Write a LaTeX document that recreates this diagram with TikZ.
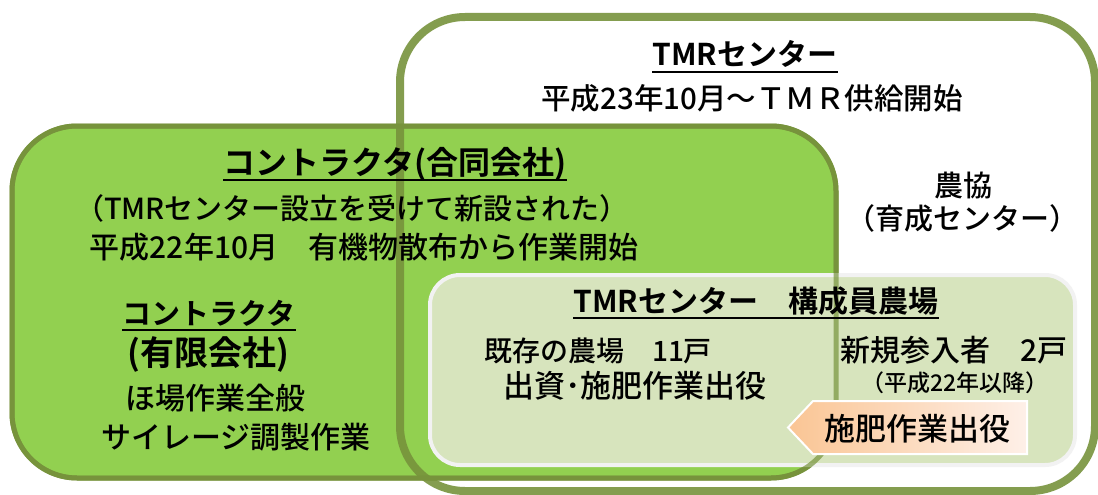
\documentclass[tikz,border=0pt]{standalone}
\usepackage{fontspec}
\setmainfont{Noto Sans CJK JP}[BoldFont={Noto Sans CJK JP Bold}]
\newfontfamily\medfont{Noto Sans CJK JP Medium}
\definecolor{bordergreen}{HTML}{77933C}
\definecolor{fillgreen}{HTML}{92D050}
\definecolor{lightfill}{HTML}{D7E4BD}
\definecolor{lightborder}{HTML}{F2F2F2}
\definecolor{peachL}{HTML}{FAC594}
\definecolor{peachR}{HTML}{FEF0E8}
\begin{document}
\begin{tikzpicture}[x=1pt,y=-1pt,
  txt/.style={anchor=base, inner sep=0pt, font=\medfont\fontsize{30}{32}\selectfont},
  smalltxt/.style={anchor=base, inner sep=0pt, font=\medfont\fontsize{23}{25}\selectfont},
  hd/.style={anchor=base, inner sep=0pt, font=\fontsize{30}{32}\selectfont\bfseries},
  uline/.style={line width=1.8pt, black},
  bigbox/.style={rounded corners=65pt}]
\useasboundingbox (0,0) rectangle (1098,495);
\fill[white] (0,0) rectangle (1098,495);
% contractor (green) box
\fill[fillgreen, bigbox] (12,126) rectangle (836,478);
\draw[bordergreen, line width=5pt, bigbox] (12,126) rectangle (836,478);
% member farms box
\draw[fill=lightfill, draw=lightborder, line width=4pt, rounded corners=30pt] (430,275) rectangle (1075,465);
% TMR centre box border
\draw[bordergreen, line width=8pt, bigbox, opacity=0.9] (400,17) rectangle (1095,491);
% green border seen through
\draw[bordergreen, line width=5pt, bigbox, opacity=0.7] (12,126) rectangle (836,478);
% arrow tag
\shade[left color=peachL, right color=peachR] (788,427.5) -- (813,401) -- (1027,401) -- (1027,454) -- (813,454) -- cycle;
\draw[white, line width=2pt, line join=miter] (788,427.5) -- (813,401) -- (1027,401) -- (1027,454) -- (813,454) -- cycle;

% texts
\node[hd] (tmrTitle) at (745,66) {TMRセンター};
\node[txt, font=\medfont\fontsize{29.5}{31}\selectfont] (tmrDate) at (752,110) {平成23年10月～ＴＭＲ供給開始};
\node[txt, font=\medfont\fontsize{29}{31}\selectfont] (noukyo) at (963,196) {農協};
\node[txt, font=\medfont\fontsize{29}{31}\selectfont] (ikusei) at (962,229) {（育成センター）};
\node[hd, font=\fontsize{32}{34}\selectfont\bfseries] (gdTitle) at (395,174) {コントラクタ(合同会社)};
\node[txt, font=\medfont\fontsize{29}{31}\selectfont] (gdNote) at (352,219) {（TMRセンター設立を受けて新設された）};
\node[txt] (gdStart) at (364,258) {平成22年10月　有機物散布から作業開始};
\node[hd, font=\fontsize{29}{31}\selectfont\bfseries] (ylTitle) at (209,324) {コントラクタ};
\node[hd, font=\fontsize{34}{36}\selectfont\bfseries] (ylType) at (208,365) {(有限会社)};
\node[txt] (ylWork1) at (215,409) {ほ場作業全般};
\node[txt] (ylWork2) at (236,448) {サイレージ調製作業};
\node[hd] (farmTitle) at (756,312) {TMRセンター　構成員農場};
\node[txt, font=\medfont\fontsize{28}{30}\selectfont] (old1) at (598,361) {既存の農場　11戸};
\node[txt, font=\medfont\fontsize{31}{33}\selectfont] (old2) at (635,397) {出資･施肥作業出役};
\node[txt] (new1) at (954,361) {新規参入者　2戸};
\node[smalltxt] (new2) at (955,391) {（平成22年以降）};
\node[txt, font=\medfont\fontsize{31}{33}\selectfont] (arrowTxt) at (917,440) {施肥作業出役};

% underlines
\foreach \n in {tmrTitle,gdTitle,ylTitle,farmTitle}
  \draw[uline] ([yshift=-6pt]\n.base west) -- ([yshift=-6pt]\n.base east);
\end{tikzpicture}
\end{document}
